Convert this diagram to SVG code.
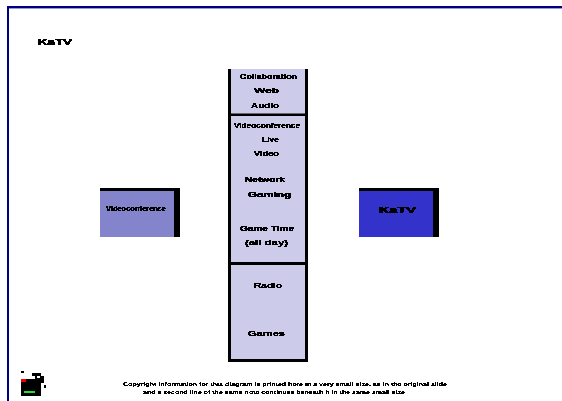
<svg xmlns="http://www.w3.org/2000/svg" width="562" height="401" viewBox="0 0 562 401">
<style>
text{font-family:"Liberation Sans",Arial,sans-serif;font-weight:bold;font-size:7px;fill:#000;stroke:#000;stroke-width:0.35;filter:url(#crisp)}
.ft{font-size:6px;stroke-width:0.2}
.big{font-size:9px;stroke-width:0.7}
.b{fill:#000}
.col{fill:#ccccea}
</style>
<defs>
<filter id="crisp" x="-5%" y="-50%" width="110%" height="200%" color-interpolation-filters="sRGB">
<feComponentTransfer><feFuncA type="discrete" tableValues="0 0 1 1"/></feComponentTransfer>
</filter>
</defs>
<rect width="562" height="401" fill="#fff"/>
<g id="frame" fill="#000080">
<rect x="7" y="6" width="555" height="2.4"/>
<rect x="7" y="6" width="2" height="395"/>
</g>
<g id="title"><text class="big" x="38" y="45" textLength="34" lengthAdjust="spacingAndGlyphs">KaTV</text></g>
<g id="connectors"></g>
<g id="source">
<rect class="b" x="100" y="188" width="80" height="49"/>
<rect x="100" y="191" width="74" height="46" fill="#8484cc"/>
<text x="106" y="211" textLength="60" lengthAdjust="spacingAndGlyphs">Videoconference</text>
</g>
<g id="target">
<rect class="b" x="359" y="188" width="80" height="49"/>
<rect x="359" y="191" width="74" height="46" fill="#3333cc"/>
<text class="big" x="379" y="213" textLength="37" lengthAdjust="spacingAndGlyphs">KaTV</text>
</g>
<g id="stack">
<rect class="b" x="228" y="69" width="80" height="293"/>
<rect class="col" x="231" y="69" width="74" height="44.500"/>
<rect class="col" x="231" y="116" width="74" height="146"/>
<rect class="col" x="231" y="265" width="74" height="94"/>
<text x="240" y="79" textLength="57" lengthAdjust="spacingAndGlyphs">Collaboration</text>
<text x="254" y="93" textLength="25" lengthAdjust="spacingAndGlyphs">Web</text>
<text x="251" y="108" textLength="28" lengthAdjust="spacingAndGlyphs">Audio</text>
<text x="234" y="128" textLength="66" lengthAdjust="spacingAndGlyphs">Videoconference</text>
<text x="262" y="142" textLength="17" lengthAdjust="spacingAndGlyphs">Live</text>
<text x="254" y="156" textLength="25" lengthAdjust="spacingAndGlyphs">Video</text>
<text x="245" y="182" textLength="40" lengthAdjust="spacingAndGlyphs">Network</text>
<text x="248" y="197" textLength="43" lengthAdjust="spacingAndGlyphs">Gaming</text>
<text x="240" y="231" textLength="54" lengthAdjust="spacingAndGlyphs">Game Time</text>
<text x="245" y="245" textLength="43" lengthAdjust="spacingAndGlyphs">(all day)</text>
<text x="254" y="288" textLength="28" lengthAdjust="spacingAndGlyphs">Radio</text>
<text x="248" y="336" textLength="37" lengthAdjust="spacingAndGlyphs">Games</text>
</g>
<g id="icon">
<rect class="b" x="21" y="379" width="20" height="17"/>
<rect class="b" x="32" y="373" width="9" height="3"/>
<rect class="b" x="35" y="376" width="9" height="3"/>
<rect class="b" x="41" y="379" width="3" height="4"/>
<rect class="b" x="44" y="385" width="2" height="3"/>
<rect class="b" x="21" y="371" width="3" height="2"/>
<rect x="37" y="376" width="3" height="2" fill="#fff"/>
<rect x="21" y="379" width="5" height="3" fill="#f00000"/>
<rect x="24" y="391" width="11" height="2" fill="#22e030"/>
</g>
<g id="footer">
<text class="ft" x="123" y="386" textLength="324" lengthAdjust="spacingAndGlyphs">Copyright information for this diagram is printed here in a very small size, as in the original slide</text>
<text class="ft" x="143" y="394" textLength="262" lengthAdjust="spacingAndGlyphs">and a second line of the same note continues beneath it in the same small size</text>
</g>
</svg>
